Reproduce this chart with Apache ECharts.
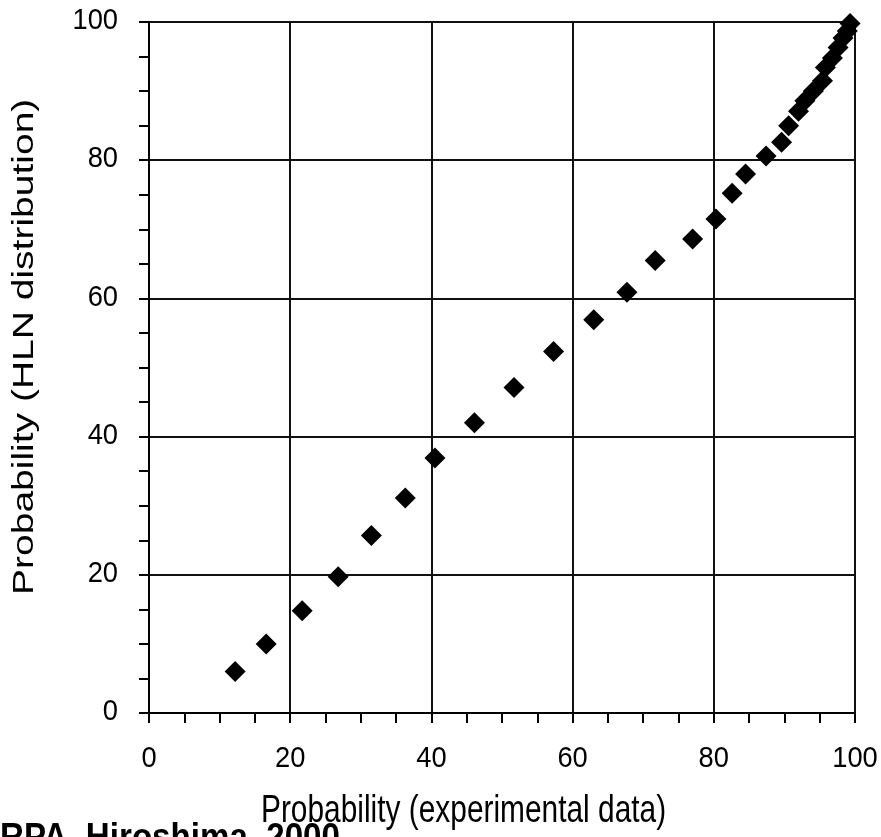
<!DOCTYPE html>
<html>
<head>
<meta charset="utf-8">
<title>HLN probability plot</title>
<script src="https://cdn.jsdelivr.net/npm/echarts@6/dist/echarts.min.js"></script>
<style>
  html, body { margin: 0; padding: 0; background: #fff; overflow: hidden; }
  #chart { width: 881px; height: 837px; }
</style>
</head>
<body>
<div id="chart"></div>
<script>
// Empirical probability (%) of each sorted observation
const experimentalProb = [
  12.2, 16.6, 21.7, 26.8, 31.5, 36.3, 40.5, 46.1, 51.7, 57.3,
  63.0, 67.7, 71.7, 77.0, 80.3, 82.6, 84.5, 87.4, 89.6, 90.6,
  92.0, 92.9, 94.1, 95.4, 95.8, 96.8, 97.6, 98.3, 98.9, 99.3
];
// Matching probability (%) from the fitted HLN distribution
const hlnProb = [
   6.0, 10.0, 14.8, 19.7, 25.7, 31.1, 36.9, 42.0, 47.1, 52.3,
  56.9, 60.9, 65.5, 68.6, 71.5, 75.2, 78.0, 80.6, 82.6, 85.0,
  87.1, 88.6, 90.0, 91.5, 93.4, 94.8, 96.3, 97.7, 98.7, 99.8
];
const tickValues = [0, 20, 40, 60, 80, 100];
const xTitle = 'Probability (experimental data)';
const yTitle = 'Probability (HLN distribution)';
const credit = 'RPA, Hiroshima, 2000';

const points = experimentalProb.map((x, i) => [x, hlnProb[i]]);
const FONT = '"Liberation Sans", Arial, sans-serif';

function axisCommon() {
  return {
    type: 'value',
    min: tickValues[0],
    max: tickValues[tickValues.length - 1],
    interval: tickValues[1] - tickValues[0],
    axisLine: { show: true, onZero: false, lineStyle: { color: '#000', width: 2 } },
    axisTick: { show: true, length: 10, lineStyle: { color: '#000', width: 2 } },
    minorTick: { show: true, splitNumber: 4, length: 10, lineStyle: { color: '#000', width: 2 } },
    splitLine: { show: true, lineStyle: { color: '#111', width: 2 } },
    // tick labels are drawn below as condensed text
    axisLabel: { show: false }
  };
}

const chart = echarts.init(document.getElementById('chart'), null, { renderer: 'canvas' });
chart.setOption({
  animation: false,
  backgroundColor: '#fff',
  grid: { left: 149, right: 26, top: 22, bottom: 124, containLabel: false },
  xAxis: axisCommon(),
  yAxis: axisCommon(),
  series: [{
    type: 'scatter',
    data: points,
    symbol: 'diamond',
    symbolSize: 21,
    itemStyle: { color: '#000', opacity: 1 }
  }]
});

// Condensed tick labels placed at the axis tick positions
const LABEL_SIZE = 30;
const LABEL_SQUEEZE = 0.91;
const graphics = [];
tickValues.forEach(function (v) {
  const px = chart.convertToPixel({ gridIndex: 0 }, [v, 0]);
  const py = chart.convertToPixel({ gridIndex: 0 }, [0, v]);
  graphics.push({
    type: 'text', x: px[0], y: 759, scaleX: LABEL_SQUEEZE,
    style: { text: String(v), font: LABEL_SIZE + 'px ' + FONT, fill: '#000', align: 'center', verticalAlign: 'middle' }
  });
  graphics.push({
    type: 'text', x: 118, y: py[1] - 1, scaleX: LABEL_SQUEEZE,
    style: { text: String(v), font: LABEL_SIZE + 'px ' + FONT, fill: '#000', align: 'right', verticalAlign: 'middle' }
  });
});

// Axis titles
const TITLE_SIZE = 39;
const TITLE_SQUEEZE = 0.766;
graphics.push({
  type: 'text', x: 261, y: 792, scaleX: TITLE_SQUEEZE,
  style: { text: xTitle, font: TITLE_SIZE + 'px ' + FONT, fill: '#000', align: 'left', verticalAlign: 'top' }
});
graphics.push({
  type: 'text', x: 10, y: 595, rotation: Math.PI / 2, scaleY: TITLE_SQUEEZE,
  style: { text: yTitle, font: TITLE_SIZE + 'px ' + FONT, fill: '#000', align: 'left', verticalAlign: 'top' }
});

// Source credit along the bottom edge
graphics.push({
  type: 'text', x: 0, y: 821, scaleX: 0.92,
  style: { text: credit, font: 'bold 36px ' + FONT, fill: '#000', align: 'left', verticalAlign: 'top' }
});

chart.setOption({ graphic: graphics });
</script>
</body>
</html>
